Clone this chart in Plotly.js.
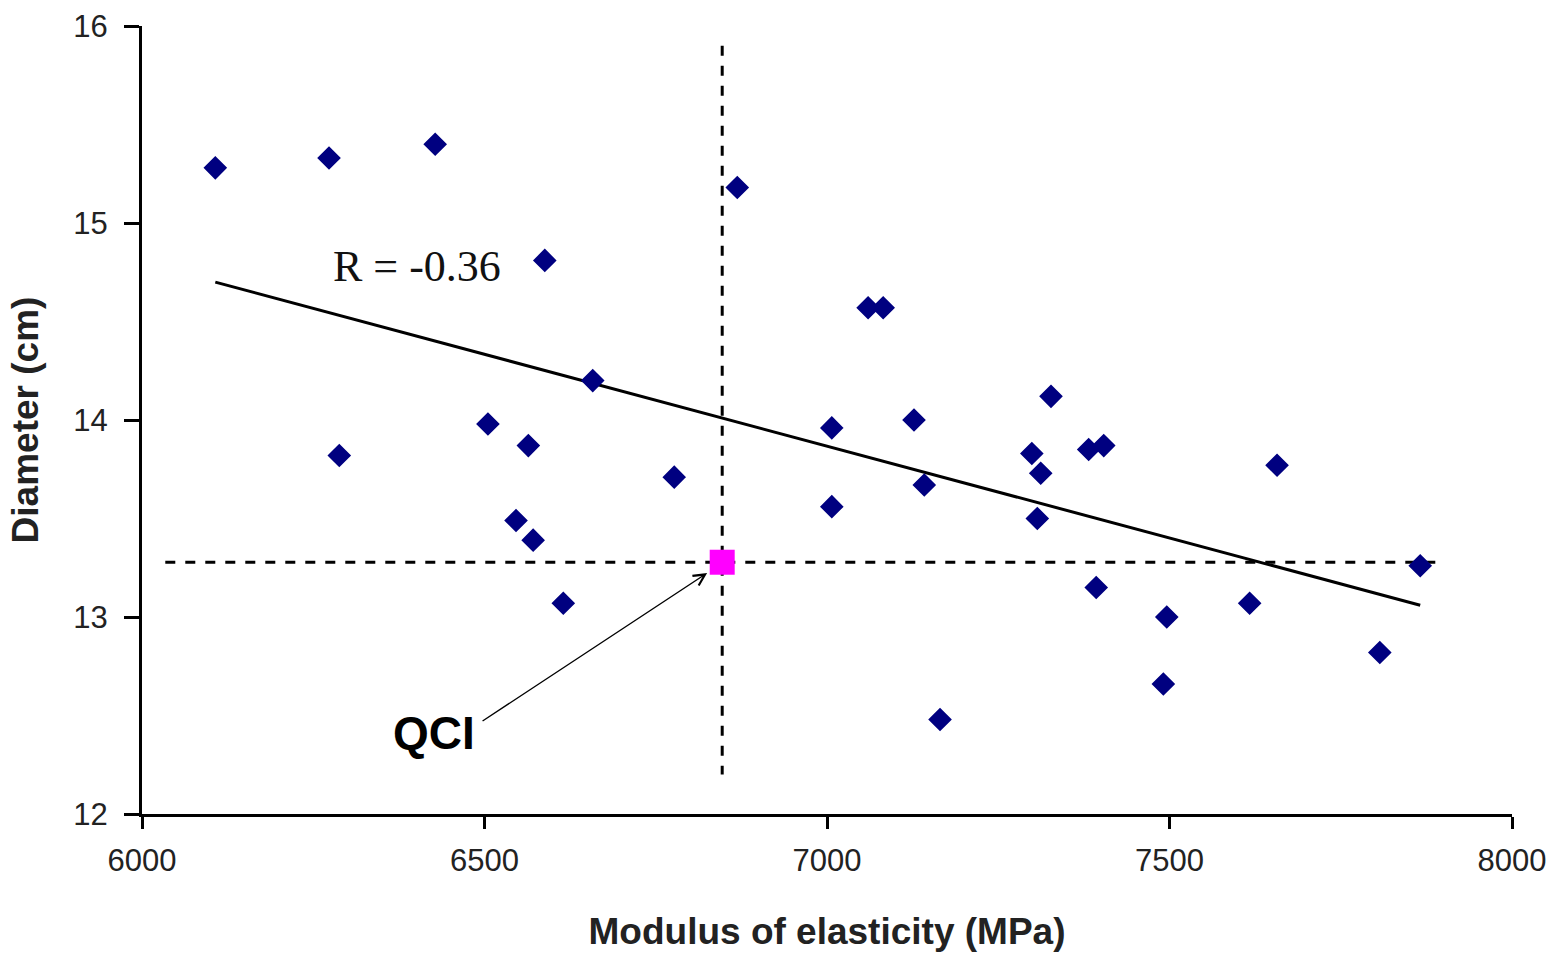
<!DOCTYPE html>
<html>
<head>
<meta charset="utf-8">
<script src="https://cdn.plot.ly/plotly-3.0.1.min.js"></script>
<style>html,body{margin:0;padding:0;background:#fff;}#chart{width:1564px;height:953px;}</style>
</head>
<body>
<div id="chart"></div>
<script>
// Sample points: modulus of elasticity (MPa) vs diameter (cm)
const modulus = [6107, 6273, 6428, 6288, 6588, 6505, 6564, 6546, 6571, 6615, 6658, 6777,
  6869, 7060, 7082, 7007, 7007, 7127, 7142, 7165, 7299, 7312, 7307, 7327, 7382, 7404,
  7393, 7496, 7491, 7617, 7657, 7807, 7866];
const diameter = [15.28, 15.33, 15.40, 13.82, 14.81, 13.98, 13.87, 13.49, 13.39, 13.07, 14.20, 13.71,
  15.18, 14.57, 14.57, 13.96, 13.56, 14.00, 13.67, 12.48, 13.83, 13.73, 13.50, 14.12, 13.85, 13.87,
  13.15, 13.00, 12.66, 13.07, 13.77, 12.82, 13.26];

// Trend line endpoints
const trendX = [6107, 7866];
const trendY = [14.70, 13.06];

// QCI point and its cross-hair lines
const qciX = [6847];
const qciY = [13.278];
const vLineX = [6847, 6847];
const vLineY = [15.90, 12.20];
const hLineX = [6034, 7895];
const hLineY = [13.278, 13.278];

// Annotation texts / positions (data units)
const rLabel = "R = -0.36";
const rLabelPos = [6402, 14.78];
const qciLabel = "QCI";
const qciLabelPos = [6426, 12.41];
const arrowHead = [6825, 13.223];
const arrowTail = [6495, 12.467];

const xTicks = [6000, 6500, 7000, 7500, 8000];
const yTicks = [12, 13, 14, 15, 16];

const traces = [
  {x: vLineX, y: vLineY, mode: 'lines', line: {color: '#000', width: 3, dash: '10px,10px'}, hoverinfo: 'skip'},
  {x: hLineX, y: hLineY, mode: 'lines', line: {color: '#000', width: 3, dash: '10px,10px'}, hoverinfo: 'skip'},
  {x: trendX, y: trendY, mode: 'lines', line: {color: '#000', width: 3}, hoverinfo: 'skip'},
  {x: modulus, y: diameter, mode: 'markers', marker: {symbol: 'diamond', size: 16, color: '#000080', line: {color: '#000080', width: 2}}},
  {x: qciX, y: qciY, mode: 'markers', marker: {symbol: 'square', size: 25, color: '#ff00ff', line: {width: 0}}}
];

const layout = {
  width: 1564, height: 953,
  margin: {l: 142, r: 52, t: 26, b: 139},
  paper_bgcolor: '#fff', plot_bgcolor: '#fff',
  showlegend: false,
  font: {family: 'Liberation Sans, Arial, sans-serif', color: '#000'},
  xaxis: {
    range: [6000, 8000], tickvals: xTicks, ticktext: xTicks.map(String),
    showgrid: false, zeroline: false, showline: true, linecolor: '#000', linewidth: 3,
    ticks: 'outside', ticklen: 12, tickwidth: 3, tickcolor: '#000',
    tickfont: {size: 31, color: '#222'}, ticklabelstandoff: 5,
    title: {text: 'Modulus of elasticity (MPa)', font: {size: 37, color: '#222', family: 'Liberation Sans, Arial, sans-serif', weight: 'bold'}, standoff: 41}
  },
  yaxis: {
    range: [12, 16], tickvals: yTicks, ticktext: yTicks.map(String),
    showgrid: false, zeroline: false, showline: true, linecolor: '#000', linewidth: 3,
    ticks: 'outside', ticklen: 15, tickwidth: 3, tickcolor: '#000',
    tickfont: {size: 31, color: '#222'}, ticklabelstandoff: 10,
    title: {text: 'Diameter (cm)', font: {size: 37, color: '#222', family: 'Liberation Sans, Arial, sans-serif', weight: 'bold'}, standoff: 24}
  },
  annotations: [
    {x: rLabelPos[0], y: rLabelPos[1], xref: 'x', yref: 'y', text: rLabel, showarrow: false,
     font: {family: 'Liberation Serif, Times New Roman, serif', size: 44, color: '#111'}},
    {x: qciLabelPos[0], y: qciLabelPos[1], xref: 'x', yref: 'y', text: qciLabel, showarrow: false,
     font: {family: 'Liberation Sans, Arial, sans-serif', size: 46, color: '#000', weight: 'bold'}},
    {x: arrowHead[0], y: arrowHead[1], xref: 'x', yref: 'y', ax: arrowTail[0], ay: arrowTail[1], axref: 'x', ayref: 'y',
     text: '', showarrow: true, arrowhead: 5, arrowsize: 1.6, arrowwidth: 1.4, arrowcolor: '#000', standoff: 0}
  ]
};

Plotly.newPlot('chart', traces, layout, {displayModeBar: false, staticPlot: true});
</script>
</body>
</html>
